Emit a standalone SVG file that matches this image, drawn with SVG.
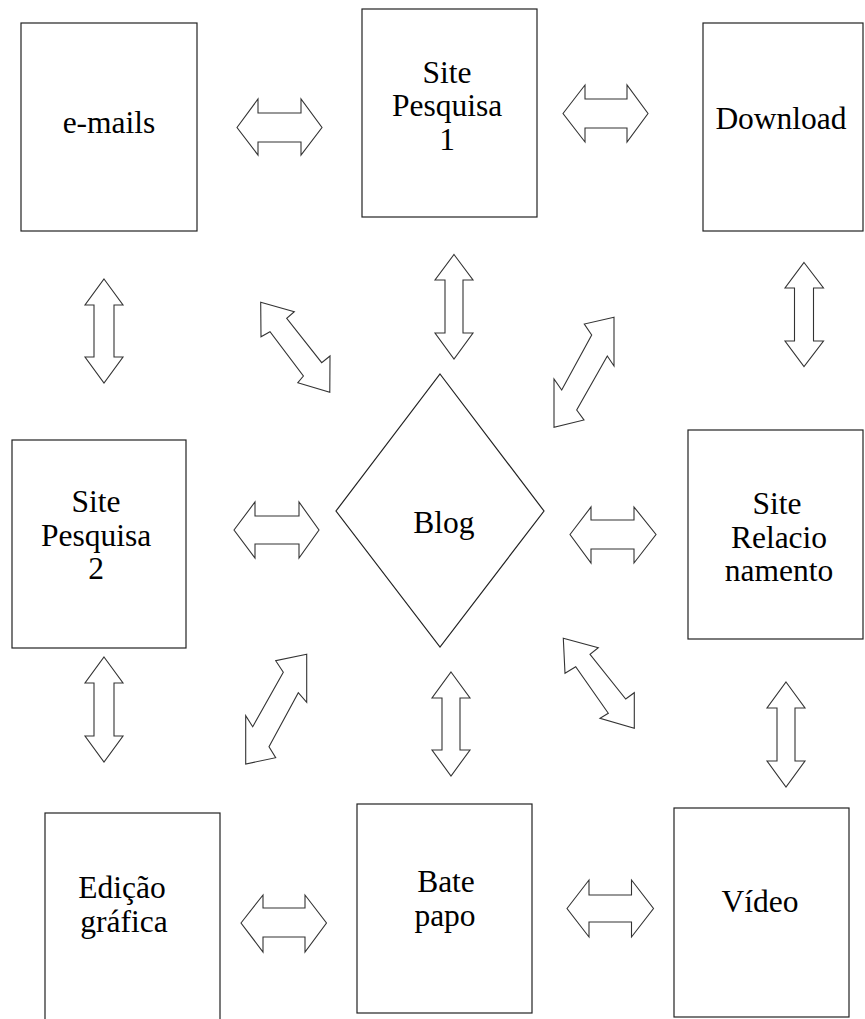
<svg xmlns="http://www.w3.org/2000/svg" width="865" height="1019" viewBox="0 0 865 1019">
<style>
.box{fill:#fff;stroke:#222;stroke-width:1.2}
.arr{fill:#fff;stroke:#333;stroke-width:1.1;stroke-linejoin:miter}
text{font-family:'Liberation Serif','Times New Roman',serif;font-size:31.5px;fill:#000;text-anchor:middle}
</style>
<rect width="865" height="1019" fill="#fff"/>
<g id="emails"><rect class="box" x="21" y="23" width="176" height="208"/><text x="109" y="133">e-mails</text></g>
<g id="sitePesquisa1"><rect class="box" x="362" y="9" width="175" height="208"/><text x="447" y="83">Site</text><text x="447" y="116">Pesquisa</text><text x="447" y="150">1</text></g>
<g id="download"><rect class="box" x="703" y="23" width="160" height="208"/><text x="781" y="129">Download</text></g>
<g id="sitePesquisa2"><rect class="box" x="12" y="440" width="174" height="208"/><text x="96" y="512">Site</text><text x="96" y="546">Pesquisa</text><text x="96" y="579">2</text></g>
<g id="blog"><polygon class="box" points="440,374 544,511 440,647 336,511"/><text x="444" y="533">Blog</text></g>
<g id="siteRelacionamento"><rect class="box" x="688" y="430" width="175" height="209"/><text x="777" y="514">Site</text><text x="779" y="548">Relacio</text><text x="779" y="581">namento</text></g>
<g id="edicaoGrafica"><rect class="box" x="45" y="813" width="175" height="215"/><text x="122" y="898">Edição</text><text x="124" y="932">gráfica</text></g>
<g id="batePapo"><rect class="box" x="357" y="804" width="175" height="209"/><text x="446" y="892">Bate</text><text x="445" y="926">papo</text></g>
<g id="video"><rect class="box" x="674" y="808" width="175" height="209"/><text x="760" y="912">Vídeo</text></g>
<g id="connectors">
<polygon class="arr" points="237,127.5 258,99 258,113 301,113 301,99 322,127.5 301,155 301,142 258,142 258,155"/>
<polygon class="arr" points="563,113.5 585,85 585,99 627,99 627,85 648,113.5 627,142 627,128 585,128 585,142"/>
<polygon class="arr" points="234,530 255,502 255,516 299,516 299,502 319,530 299,558 299,544 255,544 255,558"/>
<polygon class="arr" points="570,534.5 591,507 591,520 634,520 634,507 656,534.5 634,563 634,549 591,549 591,563"/>
<polygon class="arr" points="241,923 263,895 263,908 305,908 305,895 326.5,923 305,952 305,937 263,937 263,952"/>
<polygon class="arr" points="567,908.5 589,880 589,895 631.5,895 631.5,880 653.5,908.5 631.5,937 631.5,922 589,922 589,937"/>
<polygon class="arr" points="104,279 123,305 114,305 114,357 123,357 104,383 85,357 94,357 94,305 85,305"/>
<polygon class="arr" points="454,254.5 473,280 463,280 463,333 473,333 454,359 435,333 445,333 445,280 435,280"/>
<polygon class="arr" points="804,262.5 823.5,288 813.5,288 813.5,341 823.5,341 804,366.5 785,341 794.5,341 794.5,288 785,288"/>
<polygon class="arr" points="104,657 123,683 114,683 114,736 123,736 104,762 85,736 94,736 94,683 85,683"/>
<polygon class="arr" points="451,672 470,698 460,698 460,750 470,750 451,776 432,750 442,750 442,698 432,698"/>
<polygon class="arr" points="786,682 805,708 795,708 795,761 805,761 786,787 767,761 777,761 777,708 767,708"/>
<polygon class="arr" points="260.7,302.3 294.3,311.7 286.7,318.3 321.7,362.7 330,356 329.8,392.3 297.8,382.7 303.4,376 270,331.7 261,336.7"/>
<polygon class="arr" points="614,317.3 584.3,324 591.7,335 561.7,390 554,379 554,427.3 584,420 576.7,410 607.3,356 614,366"/>
<polygon class="arr" points="306.7,654.3 275.7,660.7 283.3,672.3 252.7,726.7 245.7,715.7 245.7,764 275.7,757.7 269,746.7 298.3,692.7 306.7,702.3"/>
<polygon class="arr" points="563.3,638.3 598.3,647.7 590,654.3 625.7,699 634.3,692.7 634.3,728.3 600,718.3 608.3,713.3 575.7,666.7 565,673.3"/>
</g>
</svg>
